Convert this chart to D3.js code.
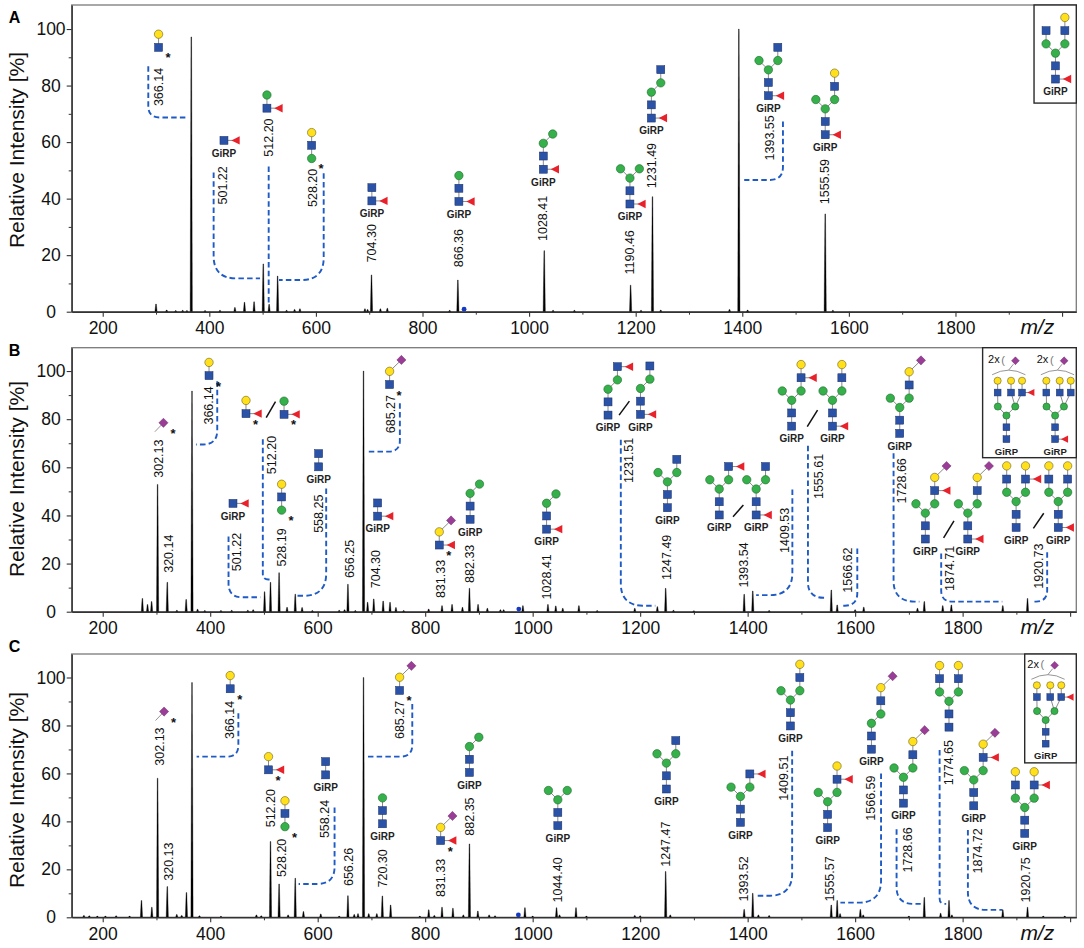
<!DOCTYPE html>
<html><head><meta charset="utf-8">
<script src="https://cdn.jsdelivr.net/npm/d3@7/dist/d3.min.js"></script>
<style>html,body{margin:0;padding:0;background:#fff}svg{display:block}</style>
</head><body>
<svg id="chart" width="1084" height="948"></svg>
<script>
// ---------------- data ----------------
const xMajor = [200, 400, 600, 800, 1000, 1200, 1400, 1600, 1800, 2000];
const xMinor = [300, 500, 700, 900, 1100, 1300, 1500, 1700, 1900];
const yMajor = [0, 20, 40, 60, 80, 100];
const yMinor = [10, 30, 50, 70, 90];
const panelNames = ["A", "B", "C"];

// peaks [m/z, relative intensity %]
const peaksA = [[300,2.7],[320,0.6],[337,0.4],[350,0.5],[358,0.4],[366.14,97.2],[392,0.4],[420,0.5],[448,1.5],[466,3.3],[484,3.5],[501.22,16.9],[512.2,2.6],[528.2,12.6],[545,0.5],[560,0.8],[570,1.0],[692,1.0],[697,0.8],[704.3,13.0],[721,1.0],[734,1.2],[851,0.5],[866.36,11.2],[1028.41,21.6],[1045,0.5],[1085,0.5],[1190.46,9.4],[1210,0.5],[1231.49,40.7],[1247,0.6],[1376,0.8],[1393.55,100],[1410,0.6],[1555.59,34.6],[1570,0.5]];
const peaksB = [[273.8,5.5],[283.4,3.0],[291,4.2],[302.13,52.9],[320.14,12.2],[338,0.6],[355.3,5.1],[366.14,91.7],[376.5,1.0],[390,0.5],[420,0.5],[440,0.6],[470,0.6],[480,0.8],[501.22,8.3],[512.2,12.2],[528.19,16.2],[543,1.8],[558.25,7.3],[571,1.7],[590,0.5],[640,0.6],[650,0.8],[656.25,11.4],[670,0.5],[685.27,100],[692.9,3.9],[704.3,5.3],[721.8,4.4],[734.6,3.9],[745.6,1.7],[760,0.5],[806.5,1.1],[831.33,2.5],[850,3.0],[869.4,1.8],[882.33,9.7],[898.4,3.0],[915.7,1.4],[940,0.8],[946,0.8],[981.8,2.5],[1028.41,3.0],[1043,2.4],[1056,1.4],[1086,2.5],[1120,0.5],[1190,1.4],[1232,2.1],[1247.49,9.7],[1262,0.6],[1300,0.4],[1393.54,7.2],[1409.53,8.6],[1440,0.5],[1555.61,9.0],[1566.62,2.8],[1600,0.8],[1616,1.9],[1716,1.4],[1728.66,4.2],[1763,2.5],[1779,2.8],[1874.71,2.5],[1920.73,5.5]];
const peaksC = [[165,0.8],[175,0.6],[190,0.5],[205,0.5],[225,0.6],[250,0.5],[272.1,7.0],[291.4,4.2],[302.13,58],[320.13,12.8],[337.8,1.2],[347,0.8],[355.8,10.3],[366.14,97.9],[380,0.6],[420,0.4],[486,1.0],[495,0.6],[512.2,31.6],[528.2,13.9],[545,1.0],[558.24,16.3],[573.5,2.4],[605.7,1.4],[640,0.5],[656.26,9.0],[668,1.2],[675,1.5],[685.27,100],[695,1.5],[710,1.5],[720.3,8.9],[735.7,5.1],[790,0.5],[806.6,3.1],[817,0.8],[831.33,4.2],[851.6,3.8],[871,1.0],[882.35,30.6],[898,2.6],[919,1.0],[930,0.6],[985.6,4.0],[1000,0.5],[1044.4,4.0],[1050,1.0],[1080.6,4.0],[1100,0.5],[1190,0.8],[1200,0.6],[1247.47,19.1],[1256,1.0],[1393.52,3.3],[1409.51,10],[1420,1.0],[1440,0.7],[1555.57,5.1],[1566.59,7.0],[1572,1.5],[1609.7,3.3],[1615,1.0],[1700,0.5],[1728.66,8.3],[1759,1.7],[1774.65,7.0],[1780,1.0],[1874.72,3.1],[1920.75,4.2],[1950,0.5],[1990,0.5]];

// peak labels [text, m/z, intensity]
const labelsA = [["366.14",306.1,79.5],["501.22",426.2,44.7],["512.20",512.7,61.6],["528.20",595.3,43.8],["704.30",705.0,24.2],["866.36",867.6,22.5],["1028.41",1026.7,33],["1190.46",1189.2,21],["1231.49",1231.4,51.7],["1393.55",1451.7,61.5],["1555.59",1555.6,46]];
const labelsB = [["302.13",304.7,63.6],["320.14",322.5,24.1],["366.14",397.8,85.7],["501.22",450.0,24.8],["512.20",515.1,65.1],["528.19",532.9,26.7],["558.25",601.8,40.7],["656.25",660.5,21.9],["685.27",737.0,82.1],["704.30",708.3,17.7],["831.33",829.4,13.6],["882.33",883.6,19.9],["1028.41",1025.9,14.5],["1231.51",1180.0,62.9],["1247.49",1250.7,22.6],["1393.54",1393.9,19.4],["1409.53",1469.1,33.8],["1555.61",1533.4,56.2],["1566.62",1586.7,17.3],["1728.66",1687.5,54.4],["1874.71",1777.4,18],["1920.73",1941.3,18.9]];
const labelsC = [["302.13",305.9,71.2],["320.13",323.8,23.2],["366.14",437.2,82.3],["512.20",513.6,45.5],["528.20",532.7,24.8],["558.24",613.6,41],["656.26",658.2,21],["685.27",753.7,82.3],["720.30",721.8,20.4],["831.33",830.1,16.4],["882.35",883.0,42],["1044.40",1046.8,15.6],["1247.47",1248.8,30.5],["1393.52",1393.0,16],["1409.51",1466.8,58],["1555.57",1553.3,16],["1566.59",1630.3,49.7],["1728.66",1697.6,28.1],["1774.65",1774.6,64.5],["1874.72",1829.1,27.7],["1920.75",1918.8,15.6]];

// dashed leaders [m/z of vertical, top %, horizontal %, m/z end]
const leadersA = [[285.5,86.8,68.7,359.7],[408.1,49.2,11.8,495.2],[511.4,51.4,2.4,511.4],[614.6,49,11.2,530.7],[1476.3,67.3,46.6,1403.6]];
const leadersB = [[413.1,95.8,69.5,373.5],[434.1,31.2,6.0,493.4],[497.9,71.7,13.4,510.6],[615.8,51.2,6.6,561.6],[752.9,86.6,66.5,692.3],[1164.0,71.5,2.5,1228.2],[1483.2,50.8,6.9,1415.8],[1512.2,69,5.8,1548.1],[1604.0,26.3,2.5,1575.1],[1671.5,65.8,4.2,1719.6],[1760.1,24.2,4.2,1873.8],[1957.3,24.7,4.2,1931.6]];
const leadersC = [[452.4,85.1,67.0,374.7],[631.4,45.8,13.9,564.5],[776.0,89,67,691.9],[1482.8,69.5,9.0,1414.2],[1648.2,60,6.1,1572.6],[1677.1,36.7,5.6,1722.0],[1757.2,69.8,5.6,1769.4],[1809.8,36.4,3.1,1874.0]];

// glycan cartoons [residue codes, m/z of reducing end, intensity, GiRP tag, asterisk]
const glycansA = [["R Y1",304.8,93.5,0,1],["R F0",427.5,60.6,1,0],["R F0 M1",508.1,72,0,0],["RM SM1 YM2",592.0,54.2,0,1],["R F0 S1",705.0,39.2,1,0],["R F0 S1 M0",868.3,39,1,0],["R F0 S1 M0 MR",1026.7,50.4,1,0],["R F0 S1 M0 ML MR",1189.2,38.1,1,0],["R F0 S1 M0 MR SR",1229.4,68.5,1,0],["R F0 S1 M0 ML MR SR",1449.0,76.4,1,0],["R F0 S1 M0 ML MR SR YR",1555.6,62.6,1,0],["R F0 S1 M0 ML MR SL SR YR",1987.6,82.3,1,0]];
const glycansB = [["RN",313.0,78.5,0,1],["R Y1",397.8,98.1,0,1],["R F0 Y1",466.6,82.3,0,1],["R F0 M1",537.4,82,0,1],["RM SM1 YM2",532.9,42.2,0,1],["R F0",442.4,45,1,0],["R S1",601.8,60.2,1,0],["R Y1 N1",733.8,94.4,0,1],["R F0 S1",711.5,39.7,1,0],["R F0 Y1 N1",826.2,27.7,0,1],["R S1 M0 MR",883.6,38.4,1,0],["R F0 S1 M0 MR",1025.9,34.3,1,0],["R S1 M0 MR SR FSR",1140.2,81.7,1,0],["R F0 S1 M0 MR SR",1200.6,82,1,0],["R S1 M0 ML MR SR",1250.7,43.2,1,0],["R S1 M0 ML MR SR FSR",1347.1,40.2,1,0],["R F0 S1 M0 ML MR SR",1415.8,40.2,1,0],["R S1 M0 ML MR SR FSR YR",1481.9,77.1,1,0],["R F0 S1 M0 ML MR SR YR",1557.8,77.1,1,0],["R S1 M0 ML MR SR YR NR",1683.0,74.1,1,0],["R S1 M0 ML MR SR FSR YR NR",1730.6,30.2,1,0],["R F0 S1 M0 ML MR SR YR NR",1809.6,30.2,1,0],["R S1 M0 ML MR SL SR FSR YL YR",1899.5,35,1,0],["R F0 S1 M0 ML MR SL SR YL YR",1977.9,35,1,0],["R tS1 tM0 tML tMR tSL tSA tSB tFB tYL tYA tYB X2",1881.5,71.7,1,0],["R tF0 tS1 tM0 tML tMR tSL tSA tSB tYL tYA tYB X2",1972.1,71.7,1,0]];
const glycansC = [["RN",314.2,85.8,0,1],["R Y1",437.2,95.3,0,1],["R F0 Y1",508.5,61.5,0,1],["RM SM1 YM2",539.1,37.8,0,1],["R S1",614.8,59.4,1,0],["R Y1 N1",752.4,94.6,0,1],["R S1 M0",720.6,39,1,0],["R F0 Y1 N1",828.8,32,0,1],["R S1 M0 MR",882.35,60.4,1,0],["R S1 M0 ML MR",1046.8,38.2,1,0],["R S1 M0 ML MR SR",1248.8,53.5,1,0],["R S1 M0 ML MR SR FSR",1386.6,39.6,1,0],["R S1 M0 ML MR SR YR",1479.6,79.8,1,0],["R S1 M0 ML MR SR FSR YR",1548.8,37.4,1,0],["R S1 M0 MR SR YR NR",1630.3,70.1,1,0],["R S1 M0 ML MR SR YR NR",1689.9,47.6,1,0],["R S1 M0 ML MR SL SR YL YR",1774.6,79.3,0,0],["R S1 M0 ML MR SR FSR YR NR",1820.7,46.5,1,0],["R S1 M0 ML MR SL SR FSR YL YR",1915.6,35,1,0],["R tS1 tM0 tML tMR tSL tSA tSB tFB tYL tYA tYB X2",1954.5,72.4,1,0]];

// "/" separators between alternative structures [m1, I1, m2, I2]
const slashesA = [];
const slashesB = [[504.2,80.6,521.5,87.3],[1160.8,81.7,1180.0,87.5],[1372.8,39.5,1392.0,44.3],[1510.9,76.9,1530.1,83.8],[1764.6,30.7,1783.9,37.7],[1931.6,34.6,1950.9,40.9]];
const slashesC = [];
// inset boxes [left m/z, bottom %]
const insetA = [1947.4, 73.8], insetB = [1837.2, 64], insetC = [1915.5, 64.4];
// internal calibrant marker [m/z, %]
const dotA = [878, 0.9], dotB = [974.2, 1.1], dotC = [973.4, 1.0];

// ---------------- layout / style ----------------
const FONT = "'Liberation Sans', Arial, Helvetica, sans-serif";
const X0 = 71.7, X1 = 1076.3;
const layout = [
  {top: 5, bottom: 311.7, yMax: 108.5, xDom: [141.8, 2026.7], titleY: 150, letterY: 17},
  {top: 347.7, bottom: 611.7, yMax: 109.7, xDom: [142.3, 2011.5], titleY: 479, letterY: 350},
  {top: 654, bottom: 917.3, yMax: 109.8, xDom: [142.3, 2011.5], titleY: 790, letterY: 646.7}
];
const panels = [
  {peaks: peaksA, labels: labelsA, leaders: leadersA, glycans: glycansA, slashes: slashesA, inset: insetA, dot: dotA},
  {peaks: peaksB, labels: labelsB, leaders: leadersB, glycans: glycansB, slashes: slashesB, inset: insetB, dot: dotB},
  {peaks: peaksC, labels: labelsC, leaders: leadersC, glycans: glycansC, slashes: slashesC, inset: insetC, dot: dotC}
];
const COL = {S: "#2a52a6", Y: "#ffe01b", M: "#35b04a", F: "#e8212a", N: "#9a3d97"};
const R1 = 13.2, R2 = 25.9, RB = 35.2, RB1 = 48.4, RB2 = 61.6, BX = 9.4, FX = 11.8, NX = 11.8, NY = 11.4;
const PARTS = {
  R: ["S", 0, 0, null], RM: ["M", 0, 0, null], RN: ["N", 0, 0, null],
  F0: ["F", FX, 0, "R"],
  Y1: ["Y", 0, R1, "R"], M1: ["M", 0, R1, "R"], N1: ["N", NX, R1 + NY, "Y1"],
  SM1: ["S", 0, R1, "RM"], YM2: ["Y", 0, R2, "SM1"],
  S1: ["S", 0, R1, "R"], M0: ["M", 0, R2, "S1"],
  ML: ["M", -BX, RB, "M0"], MR: ["M", BX, RB, "M0"],
  SL: ["S", -BX, RB1, "ML"], SR: ["S", BX, RB1, "MR"],
  FSR: ["F", BX + FX, RB1, "SR"],
  YL: ["Y", -BX, RB2, "SL"], YR: ["Y", BX, RB2, "SR"],
  NR: ["N", BX + NX, RB2 + NY, "YR"],
  tF0: ["F", 9.6, 0, "R"],
  tS1: ["S", 0, 11.9, "R"], tM0: ["M", 0, 23.6, "tS1"], tML: ["M", -8.6, 32.6, "tM0"], tMR: ["M", 8.8, 32.6, "tM0"],
  tSL: ["S", -8.8, 46.6, "tML"], tSA: ["S", 4.6, 46.6, "tMR"], tSB: ["S", 15.6, 46.6, "tMR"],
  tFB: ["F", 24.6, 46.6, "tSB"],
  tYL: ["Y", -8.8, 58.4, "tSL"], tYA: ["Y", 4.6, 58.4, "tSA"], tYB: ["Y", 15.6, 58.4, "tSB"]
};

const svg = d3.select("#chart").attr("font-family", FONT);
svg.append("rect").attr("width", 1084).attr("height", 948).attr("fill", "#fff");

function symbol(g, t, cx, cy, k) {
  if (t === "S") {
    const h = 4 * k;
    g.append("rect").attr("x", cx - h).attr("y", cy - h).attr("width", 2 * h).attr("height", 2 * h)
      .attr("fill", COL.S).attr("stroke", "#1b2f66").attr("stroke-width", 0.5);
  } else if (t === "Y" || t === "M") {
    g.append("circle").attr("cx", cx).attr("cy", cy).attr("r", 4.2 * k)
      .attr("fill", COL[t]).attr("stroke", t === "Y" ? "#6b6020" : "#1f6b2c").attr("stroke-width", 0.6);
  } else if (t === "F") {
    g.append("polygon").attr("points", `${cx - 4.4 * k},${cy} ${cx + 3.9 * k},${cy - 4.2 * k} ${cx + 3.9 * k},${cy + 4.2 * k}`)
      .attr("fill", COL.F);
  } else if (t === "N") {
    const h = 4.6 * k;
    g.append("polygon").attr("points", `${cx},${cy - h} ${cx + h},${cy} ${cx},${cy + h} ${cx - h},${cy}`)
      .attr("fill", COL.N).attr("stroke", "#5a1f58").attr("stroke-width", 0.4);
  }
}

function drawGlycan(g, spec, x, y) {
  const [code, m, I, girp, star] = spec;
  const gg = g.append("g").attr("transform", `translate(${x(m)},${y(I)})`);
  const pos = {}, nodes = [];
  let deco = false;
  code.split(" ").forEach(t => {
    if (t === "X2") { deco = true; return; }
    const p = PARTS[t];
    const n = {t: p[0], x: p[1], y: -p[2], par: p[3]};
    pos[t] = n; nodes.push(n);
  });
  const k = deco ? 0.85 : 1;
  nodes.forEach(n => {
    if (n.par && pos[n.par]) {
      const q = pos[n.par];
      gg.append("line").attr("x1", q.x).attr("y1", q.y).attr("x2", n.x).attr("y2", n.y)
        .attr("stroke", "#7d7d7d").attr("stroke-width", 0.9);
    }
  });
  if (pos.RN) {
    gg.append("line").attr("x1", 0).attr("y1", 0).attr("x2", -8.6).attr("y2", 9)
      .attr("stroke", "#8a8a8a").attr("stroke-width", 0.9);
  }
  if (deco) {
    gg.append("text").attr("x", -12.6).attr("y", -80).attr("dominant-baseline", "central")
      .attr("text-anchor", "middle").attr("font-size", 11).attr("fill", "#111").text("2x");
    gg.append("text").attr("x", -3.4).attr("y", -79.5).attr("dominant-baseline", "central")
      .attr("text-anchor", "middle").attr("font-size", 11).attr("fill", "#777").text("(");
    gg.append("path").attr("d", "M-14.3,-64.4Q2.3,-73.6 19,-64.4").attr("fill", "none")
      .attr("stroke", "#8a8a8a").attr("stroke-width", 0.9);
    gg.append("line").attr("x1", 2.2).attr("y1", -69).attr("x2", 7).attr("y2", -75)
      .attr("stroke", "#8a8a8a").attr("stroke-width", 0.9);
    symbol(gg, "N", 9, -78.4, k);
  }
  nodes.forEach(n => symbol(gg, n.t, n.x, n.y, k));
  if (girp) {
    gg.append("text").attr("x", 0).attr("y", deco ? 12.2 : 12.8).attr("dominant-baseline", "central")
      .attr("text-anchor", "middle").attr("font-size", deco ? 9.5 : 10).attr("font-weight", "bold")
      .attr("fill", "#222").text("GiRP");
  }
  if (star) {
    gg.append("text").attr("x", 9.5).attr("y", 15).attr("text-anchor", "middle")
      .attr("font-size", 13).attr("font-weight", "bold").attr("fill", "#111").text("*");
  }
}

function leaderPath(d, x, y) {
  const Xa = x(d[0]), Yt = y(d[1]), Yh = y(d[2]), Xb = x(d[3]);
  if (Math.abs(Xb - Xa) < 1) return `M${Xa},${Yt}V${Yh}`;
  const dir = Math.sign(Xb - Xa);
  let r = Math.max(11, Math.min(22, 0.22 * (Yh - Yt)));
  r = Math.min(r, Math.abs(Xb - Xa) * 0.8, Yh - Yt);
  return `M${Xa},${Yt}V${Yh - r}C${Xa},${Yh - r * 0.35} ${Xa + dir * r * 0.35},${Yh} ${Xa + dir * r},${Yh}H${Xb}`;
}

panels.forEach((P, i) => {
  const L = layout[i];
  const x = d3.scaleLinear().domain(L.xDom).range([X0, X1]);
  const y = d3.scaleLinear().domain([0, L.yMax]).range([L.bottom, L.top]);
  const g = svg.append("g");

  // frame
  g.append("rect").attr("x", X0).attr("y", L.top).attr("width", X1 - X0).attr("height", L.bottom - L.top)
    .attr("fill", "none").attr("stroke", "#7a7a7a").attr("stroke-width", 1.3);
  // inset box
  g.append("rect").attr("x", x(P.inset[0])).attr("y", L.top).attr("width", X1 - x(P.inset[0]))
    .attr("height", y(P.inset[1]) - L.top).attr("fill", "#fff").attr("stroke", "#2a2a2a").attr("stroke-width", 1.4);

  // leaders
  g.selectAll(".ld").data(P.leaders).enter().append("path")
    .attr("d", d => leaderPath(d, x, y)).attr("fill", "none").attr("stroke", "#1f5bc6")
    .attr("stroke-width", 1.9).attr("stroke-dasharray", "5.5,3.2");

  // peaks
  const y0 = y(0);
  g.selectAll(".pk").data(P.peaks).enter().append("path")
    .attr("d", d => { const X = x(d[0]), Yt = y(d[1]); return `M${X - 1.1},${y0}L${X - 0.3},${Yt}L${X + 0.3},${Yt}L${X + 1.1},${y0}Z`; })
    .attr("fill", "#000").attr("stroke", "#000").attr("stroke-width", 0.35);

  // blue marker
  g.append("circle").attr("cx", x(P.dot[0])).attr("cy", y(P.dot[1])).attr("r", 2.4).attr("fill", "#1538c8");

  // axes
  const ax = g.append("g").attr("transform", `translate(0,${L.bottom})`)
    .call(d3.axisBottom(x).tickValues(xMajor).tickSize(5).tickSizeOuter(0).tickPadding(5)
      .tickFormat(d => d >= 2000 ? "" : String(d)));
  ax.selectAll("text").attr("font-size", 17.5).attr("font-family", FONT).attr("fill", "#111");
  ax.select(".domain").attr("stroke", "#333").attr("stroke-width", 1.4);
  ax.selectAll("line").attr("stroke", "#333").attr("stroke-width", 1.1);
  const axm = g.append("g").attr("transform", `translate(0,${L.bottom})`)
    .call(d3.axisBottom(x).tickValues(xMinor).tickSize(3).tickSizeOuter(0).tickFormat(""));
  axm.select(".domain").remove();
  axm.selectAll("line").attr("stroke", "#333").attr("stroke-width", 1);

  const ay = g.append("g").attr("transform", `translate(${X0},0)`)
    .call(d3.axisLeft(y).tickValues(yMajor).tickSize(5).tickSizeOuter(0).tickFormat(d => String(d)));
  ay.selectAll("text").attr("font-size", 17.5).attr("font-family", FONT).attr("fill", "#111")
    .attr("x", 51 - X0).attr("text-anchor", "middle");
  ay.select(".domain").attr("stroke", "#333").attr("stroke-width", 1.4);
  ay.selectAll("line").attr("stroke", "#333").attr("stroke-width", 1.1);
  const aym = g.append("g").attr("transform", `translate(${X0},0)`)
    .call(d3.axisLeft(y).tickValues(yMinor).tickSize(3).tickSizeOuter(0).tickFormat(""));
  aym.select(".domain").remove();
  aym.selectAll("line").attr("stroke", "#333").attr("stroke-width", 1);

  // axis titles
  g.append("text").attr("x", X1 - 39).attr("y", L.bottom + 22.5).attr("text-anchor", "middle")
    .attr("font-size", 21).attr("font-style", "italic").attr("fill", "#111").text("m/z");
  g.append("text").attr("transform", `translate(16,${L.titleY}) rotate(-90)`).attr("text-anchor", "middle")
    .attr("dominant-baseline", "central").attr("font-size", 21).attr("fill", "#111").text("Relative Intensity [%]");
  g.append("text").attr("x", 14.5).attr("y", L.letterY).attr("text-anchor", "middle")
    .attr("dominant-baseline", "central").attr("font-size", 16).attr("font-weight", "bold").text(panelNames[i]);

  // peak labels
  g.selectAll(".lb").data(P.labels).enter().append("text")
    .attr("transform", d => `translate(${x(d[1])},${y(d[2])}) rotate(-90)`)
    .attr("text-anchor", "middle").attr("dominant-baseline", "central")
    .attr("font-size", 12.5).attr("fill", "#111").text(d => d[0]);

  // slashes
  g.selectAll(".sl").data(P.slashes).enter().append("line")
    .attr("x1", d => x(d[0])).attr("y1", d => y(d[1])).attr("x2", d => x(d[2])).attr("y2", d => y(d[3]))
    .attr("stroke", "#111").attr("stroke-width", 1.5);

  // glycans
  P.glycans.forEach(s => drawGlycan(g, s, x, y));
});
</script>
</body></html>
